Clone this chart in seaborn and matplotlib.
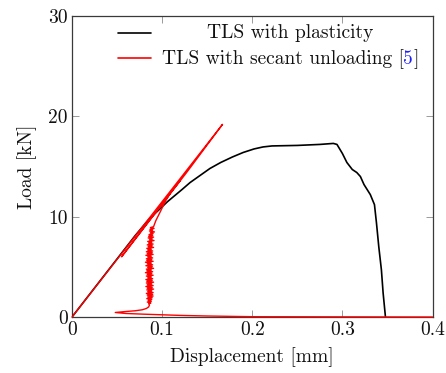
import matplotlib
matplotlib.use("Agg")
import matplotlib.pyplot as plt
from matplotlib.lines import Line2D
import seaborn as sns
import pandas as pd

# Load-displacement response, TLS with plasticity
black_disp = [0.0, 0.070, 0.085, 0.092, 0.099, 0.106, 0.114, 0.122, 0.131, 0.142,
              0.153, 0.165, 0.178, 0.190, 0.202, 0.212, 0.222, 0.250, 0.275, 0.290,
              0.294, 0.300, 0.305, 0.311, 0.316, 0.320, 0.324, 0.331, 0.3356, 0.3378,
              0.3404, 0.3433, 0.3452, 0.3478]
black_load = [0.0, 8.1, 9.7, 10.3, 10.9, 11.5, 12.1, 12.7, 13.4, 14.1,
              14.8, 15.4, 15.95, 16.4, 16.75, 16.95, 17.05, 17.1, 17.2, 17.3,
              17.2, 16.3, 15.4, 14.7, 14.4, 14.0, 13.2, 12.2, 11.2, 9.4,
              7.0, 4.7, 2.4, 0.0]

# TLS with secant unloading: loading, unloading, reloading, snap-back branch
red_disp_a = [0.0, 0.167, 0.128, 0.055, 0.120, 0.110, 0.104, 0.098, 0.093]
red_load_a = [0.0, 19.2, 14.5, 6.0, 13.6, 12.5, 11.6, 10.5, 9.6]

# Oscillating softening branch
red_disp_b = [0.0905, 0.0870, 0.0910, 0.0865, 0.0895, 0.0860, 0.0915, 0.0870, 0.0900, 0.0855,
              0.0895, 0.0850, 0.0905, 0.0845, 0.0890, 0.0860, 0.0910, 0.0840, 0.0885, 0.0850,
              0.0900, 0.0835, 0.0890, 0.0845, 0.0905, 0.0830, 0.0880, 0.0840, 0.0895, 0.0825,
              0.0890, 0.0835, 0.0900, 0.0820, 0.0880, 0.0840, 0.0895, 0.0825, 0.0885, 0.0830,
              0.0900, 0.0815, 0.0880, 0.0835, 0.0895, 0.0820, 0.0890, 0.0840, 0.0905, 0.0825,
              0.0880, 0.0830, 0.0895, 0.0815, 0.0885, 0.0835, 0.0900, 0.0825, 0.0880, 0.0840,
              0.0895, 0.0820, 0.0890, 0.0830, 0.0905, 0.0825, 0.0885, 0.0835, 0.0900, 0.0820,
              0.0890, 0.0835, 0.0905, 0.0830, 0.0885, 0.0840, 0.0900, 0.0825, 0.0895, 0.0835,
              0.0900, 0.0840, 0.0890, 0.0830, 0.0885, 0.0845, 0.0880, 0.0835, 0.0875, 0.0850]
red_load_b = [9.00, 8.91, 8.83, 8.74, 8.66, 8.57, 8.48, 8.40, 8.31, 8.22,
              8.14, 8.05, 7.96, 7.88, 7.79, 7.70, 7.62, 7.53, 7.45, 7.36,
              7.27, 7.19, 7.10, 7.01, 6.93, 6.84, 6.75, 6.67, 6.58, 6.50,
              6.41, 6.32, 6.24, 6.15, 6.06, 5.98, 5.89, 5.80, 5.72, 5.63,
              5.55, 5.46, 5.37, 5.29, 5.20, 5.11, 5.03, 4.94, 4.85, 4.77,
              4.68, 4.60, 4.51, 4.42, 4.34, 4.25, 4.16, 4.08, 3.99, 3.90,
              3.82, 3.73, 3.65, 3.56, 3.47, 3.39, 3.30, 3.21, 3.13, 3.04,
              2.95, 2.87, 2.78, 2.70, 2.61, 2.52, 2.44, 2.35, 2.26, 2.18,
              2.09, 2.00, 1.92, 1.83, 1.75, 1.66, 1.57, 1.49, 1.40, 1.32]

# Tail towards zero load
red_disp_c = [0.0860, 0.0850, 0.0825, 0.0780, 0.0700, 0.0600, 0.0480, 0.0600, 0.0800,
              0.1000, 0.1200, 0.1500, 0.2000, 0.4000]
red_load_c = [1.20, 1.00, 0.85, 0.72, 0.62, 0.55, 0.45, 0.35, 0.28,
              0.22, 0.16, 0.10, 0.03, 0.0]

x_ticks = [0, 0.1, 0.2, 0.3, 0.4]
x_tick_labels = ["0", "0.1", "0.2", "0.3", "0.4"]
y_ticks = [0, 10, 20, 30]
y_tick_labels = ["0", "10", "20", "30"]

legend_labels = ["TLS with plasticity", "TLS with secant unloading ["]
citation = "5"

sns.set_theme(style="ticks")
plt.rcParams["font.family"] = ["cmr10", "DejaVu Serif"]
plt.rcParams["mathtext.fontset"] = "cm"
plt.rcParams["axes.formatter.use_mathtext"] = True

W, H = 446, 373
fig = plt.figure(figsize=(W / 100, H / 100), dpi=100)
ax = fig.add_axes([72 / W, 1 - 317 / H, 360.5 / W, 301 / H])

black_df = pd.DataFrame({"disp": black_disp, "load": black_load})
red_df = pd.DataFrame({
    "disp": red_disp_a + red_disp_b + red_disp_c,
    "load": red_load_a + red_load_b + red_load_c,
})

sns.lineplot(data=black_df, x="disp", y="load", sort=False, estimator=None,
             color="black", lw=1.2, ax=ax, zorder=3)
sns.lineplot(data=red_df, x="disp", y="load", sort=False, estimator=None,
             color="red", lw=1.0, ax=ax, zorder=4, clip_on=False)

ax.set_xlim(0, 0.4)
ax.set_ylim(0, 30)
ax.set_xticks(x_ticks)
ax.set_xticklabels(x_tick_labels)
ax.set_yticks(y_ticks)
ax.set_yticklabels(y_tick_labels)
ax.tick_params(direction="in", length=5, width=0.6, color="#8a8a8a",
               top=True, right=True, labelsize=14, pad=3, labelcolor="#111111")
for s in ax.spines.values():
    s.set_visible(True)
    s.set_color("#3a3a3a")
    s.set_linewidth(0.9)
ax.set_xlabel("Displacement [mm]", fontsize=14, labelpad=6, color="#111111")
ax.set_ylabel("Load [kN]", fontsize=14, labelpad=8, color="#111111")

# Legend drawn in figure pixel positions, entries centred like a pgfplots legend
def fx(px):
    return px / W

def fy(py):
    return 1 - py / H

fig.add_artist(Line2D([fx(118), fx(151)], [fy(33), fy(33)], color="black", lw=1.2))
fig.add_artist(Line2D([fx(118), fx(151)], [fy(58), fy(58)], color="red", lw=1.2))
fig.text(fx(290), fy(38), legend_labels[0], ha="center", va="baseline",
         fontsize=14, color="#111111")

renderer = fig.canvas.get_renderer()
parts = [(legend_labels[1], "#111111"), (citation, "#1f1fff"), ("]", "#111111")]
tmp = [fig.text(0, 0, p, fontsize=14) for p, _ in parts]
widths = [t.get_window_extent(renderer).width for t in tmp]
for t in tmp:
    t.remove()
x0 = 290 - sum(widths) / 2
for (p, c), w in zip(parts, widths):
    fig.text(fx(x0), fy(64), p, ha="left", va="baseline", fontsize=14, color=c)
    x0 += w

fig.savefig("out.png", dpi=100)
